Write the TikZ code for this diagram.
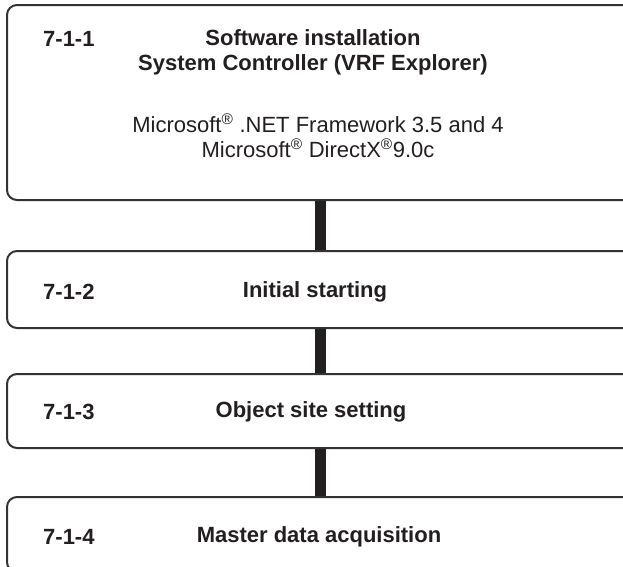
\documentclass[tikz,border=0pt]{standalone}
\usepackage{fontspec}
\setmainfont{Liberation Sans}
\definecolor{edge}{HTML}{333333}
\definecolor{bar}{HTML}{231F20}
\definecolor{txt}{HTML}{231F20}
\begin{document}
\begin{tikzpicture}[x=1pt,y=-1pt,
  stagebox/.style={draw=edge,line width=2pt,rounded corners=10pt,inner sep=0pt,minimum width=633pt},
  numtext/.style={anchor=west,inner sep=0pt,font=\fontsize{22}{25}\selectfont\bfseries,text=txt},
  titletext/.style={inner sep=0pt,font=\fontsize{22}{25}\selectfont\bfseries,text=txt,align=center},
  bodytext/.style={inner sep=0pt,font=\fontsize{22}{25}\selectfont,text=txt,align=center},
  link/.style={draw=bar,line width=11pt}]
\useasboundingbox (0,0) rectangle (623,566);
\clip (0,0) rectangle (623,566);
\node[stagebox,minimum height=195pt] (b1) at (323.5,102.5) {};
\node[stagebox,minimum height=77pt] (b2) at (323.5,289.5) {};
\node[stagebox,minimum height=74pt] (b3) at (323.5,411) {};
\node[stagebox,minimum height=75pt] (b4) at (323.5,534.5) {};
\coordinate (cx) at (320,0);
\draw[link] (b1.south -| cx) -- (b2.north -| cx);
\draw[link] (b2.south -| cx) -- (b3.north -| cx);
\draw[link] (b3.south -| cx) -- (b4.north -| cx);
\node[numtext] (n1) at (43,39) {7-1-1};
\node[titletext] (t1) at (313,52) {Software installation\\System Controller (VRF Explorer)};
\node[bodytext] (d1) at (318,135.5) {Microsoft\textsuperscript{®} .NET Framework 3.5 and 4\\Microsoft\textsuperscript{®} DirectX\textsuperscript{®}9.0c};
\node[numtext] (n2) at (43,292) {7-1-2};
\node[titletext] (t2) at (315,292) {Initial starting};
\node[numtext] (n3) at (43,412) {7-1-3};
\node[titletext] (t3) at (311,412) {Object site setting};
\node[numtext] (n4) at (43,537) {7-1-4};
\node[titletext] (t4) at (319,537) {Master data acquisition};
\end{tikzpicture}
\end{document}
